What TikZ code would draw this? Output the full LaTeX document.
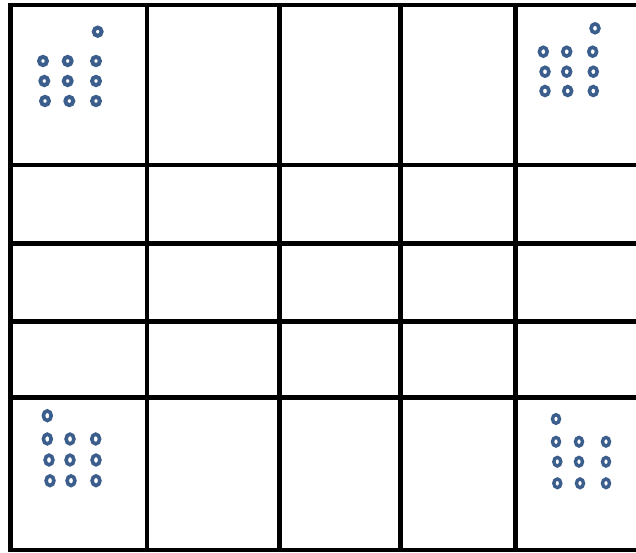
\documentclass[tikz,border=0pt]{standalone}
\definecolor{ringblue}{RGB}{59,94,140}
\begin{document}
\begin{tikzpicture}[x=1pt,y=-1pt,
  gridline/.style={line width=4.5pt,black},
  ring/.style={draw=ringblue,line width=3.8pt}]
\useasboundingbox (0,0) rectangle (636,552);
\fill[white] (0,0) rectangle (636,552);
% grid
\foreach \x in {10.5,147,279.5,400.5,515.5}
  \draw[gridline] (\x,2.75) -- (\x,552);
\foreach \y in {5,165,243.5,321.5,397.5,550}
  \draw[gridline] (8.25,\y) -- (636,\y);
% top-left group
\foreach \p in {(97.7,31.7),(43,61),(67.7,61),(96,61),(44.3,81),(67.7,81),(96,81),(45,101),(69.3,101),(96,101)}
  \draw[ring,line width=4pt] \p ellipse [x radius=3.9pt, y radius=4.1pt];
% top-right group
\foreach \p in {(595,28.3),(543.3,51.7),(566.7,51.7),(592.7,51.7),(545,71.7),(566.7,71.7),(593.3,71.7),(545,91),(567.7,91),(593.3,91)}
  \draw[ring,line width=3.6pt] \p ellipse [x radius=3.9pt, y radius=4.4pt];
% bottom-left group
\foreach \p in {(47.3,415.7),(47.3,439),(70,439),(95.7,439),(49,460),(70,460),(96,460),(50,480.7),(71,480.7),(96,480.7)}
  \draw[ring,line width=3.6pt] \p ellipse [x radius=3.9pt, y radius=4.8pt];
% bottom-right group
\foreach \p in {(556,419),(556,441.7),(579,441.7),(606,441.7),(557.3,461.7),(579,461.7),(606,461.7),(557.3,483.3),(580,483.3),(606,483.3)}
  \draw[ring,line width=3.4pt] \p ellipse [x radius=3.5pt, y radius=4.3pt];
\end{tikzpicture}
\end{document}
